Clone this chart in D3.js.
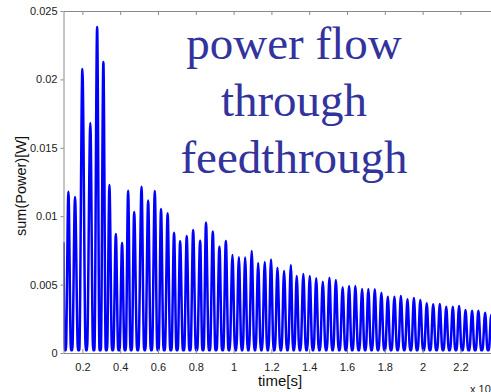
<!DOCTYPE html>
<html><head><meta charset="utf-8">
<script src="https://cdn.jsdelivr.net/npm/d3@7"></script>
<style>html,body{margin:0;padding:0;background:#fff;overflow:hidden}</style>
</head><body><svg id="c" width="491" height="392"></svg>
<script>
const titleLines = ["power flow", "through", "feedthrough"];
const xTicks = [0.2, 0.4, 0.6, 0.8, 1.0, 1.2, 1.4, 1.6, 1.8, 2.0, 2.2];
const xTickLabels = ["0.2","0.4","0.6","0.8","1","1.2","1.4","1.6","1.8","2","2.2"];
const yTicks = [0, 0.005, 0.01, 0.015, 0.02, 0.025];
const yTickLabels = ["0","0.005","0.01","0.015","0.02","0.025"];
const edgeTimes = [0.100];
const edgeValues = [0.0081];
const peakTimes = [0.126,0.161,0.200,0.242,0.278,0.311,0.343,0.377,0.410,0.442,0.474,0.513,0.548,0.583,0.616,0.651,0.685,0.717,0.752,0.786,0.823,0.854,0.890,0.925,0.959,0.994,1.028,1.061,1.096,1.130,1.165,1.198,1.232,1.267,1.303,1.334,1.369,1.403,1.437,1.472,1.507,1.541,1.577,1.611,1.644,1.680,1.713,1.747,1.782,1.816,1.851,1.885,1.920,1.954,1.988,2.022,2.056,2.091,2.125,2.160,2.193,2.227,2.262,2.295,2.331,2.363];
const peakValues = [0.01179,0.01140,0.02076,0.01681,0.02383,0.02127,0.01228,0.00870,0.00804,0.01186,0.01031,0.01216,0.01115,0.01184,0.01053,0.01021,0.00879,0.00817,0.00855,0.00899,0.00821,0.00954,0.00888,0.00777,0.00819,0.00716,0.00700,0.00698,0.00746,0.00658,0.00665,0.00683,0.00624,0.00599,0.00643,0.00563,0.00577,0.00563,0.00546,0.00521,0.00550,0.00534,0.00480,0.00490,0.00490,0.00468,0.00468,0.00466,0.00441,0.00412,0.00412,0.00417,0.00393,0.00402,0.00387,0.00363,0.00356,0.00358,0.00338,0.00338,0.00344,0.00314,0.00309,0.00309,0.00295,0.00278];
const troughTimes = [0.109,0.143,0.180,0.221,0.260,0.294,0.327,0.360,0.393,0.426,0.458,0.493,0.530,0.565,0.600,0.633,0.668,0.701,0.735,0.769,0.804,0.838,0.872,0.907,0.942,0.976,1.011,1.045,1.078,1.113,1.147,1.181,1.215,1.250,1.285,1.318,1.351,1.386,1.420,1.454,1.490,1.524,1.559,1.594,1.628,1.662,1.696,1.730,1.764,1.799,1.833,1.868,1.903,1.937,1.971,2.005,2.039,2.074,2.108,2.142,2.176,2.210,2.244,2.278,2.313,2.347,2.380];
const troughValues = [0.0002,0.0002,0.0002,0.0002,0.0002,0.0002,0.0002,0.0002,0.0002,0.0002,0.0002,0.0002,0.0002,0.0002,0.0002,0.0002,0.0002,0.0002,0.0002,0.0002,0.0002,0.0002,0.0002,0.0002,0.0002,0.0002,0.0002,0.0002,0.0002,0.0002,0.0002,0.0002,0.0002,0.0002,0.0002,0.0002,0.0002,0.0002,0.0002,0.0002,0.0002,0.0002,0.0002,0.0002,0.0002,0.0002,0.0002,0.0002,0.0002,0.0002,0.0002,0.0002,0.0002,0.0002,0.0002,0.0002,0.0002,0.0002,0.0002,0.0002,0.0002,0.0002,0.0002,0.0002,0.0002,0.0002,0.0002];

const svg = d3.select("#c");
const L = 63.5, T = 11, B = 353;
const x = d3.scaleLinear().domain([0.1, 2.4]).range([L, L + 2.3 * 189]);
const y = d3.scaleLinear().domain([0, 0.025]).range([B, T]);

// drawing style: each trough is drawn as a short flat floor of this half-width (time units)
const troughHalfWidth = 0.0035;

const pts = [];
edgeTimes.forEach((t, i) => pts.push([t, edgeValues[i]]));
peakTimes.forEach((t, i) => pts.push([t, peakValues[i]]));
troughTimes.forEach((t, i) => {
  pts.push([t - troughHalfWidth, troughValues[i]]);
  pts.push([t, troughValues[i]]);
  pts.push([t + troughHalfWidth, troughValues[i]]);
});
pts.sort((a, b) => a[0] - b[0]);

svg.append("clipPath").attr("id", "clip").append("rect")
  .attr("x", L).attr("y", 0).attr("width", 491 - L).attr("height", B + 2);

svg.append("path").datum(pts)
  .attr("clip-path", "url(#clip)")
  .attr("fill", "none").attr("stroke", "#0000ff").attr("stroke-width", 2.5)
  .attr("stroke-linejoin", "round")
  .attr("d", d3.line().x(d => x(d[0])).y(d => y(d[1])).curve(d3.curveMonotoneX));

const axisColor = "#8a8a8a";
const font = "'Liberation Sans', Arial, sans-serif";

const xb = svg.append("g").attr("transform", `translate(0,${B})`)
  .call(d3.axisBottom(x).tickValues(xTicks).tickFormat((d, i) => xTickLabels[i]).tickSizeInner(-4).tickSizeOuter(0).tickPadding(10));
const xt = svg.append("g").attr("transform", `translate(0,${T})`)
  .call(d3.axisTop(x).tickValues(xTicks).tickFormat("").tickSizeInner(-4).tickSizeOuter(0));
const yl = svg.append("g").attr("transform", `translate(${L},0)`)
  .call(d3.axisLeft(y).tickValues(yTicks).tickFormat((d, i) => yTickLabels[i]).tickSizeInner(3).tickSizeOuter(0).tickPadding(3));

[xb, xt, yl].forEach(g => {
  g.select(".domain").attr("stroke", axisColor);
  g.selectAll(".tick line").attr("stroke", axisColor);
  g.selectAll("text").attr("fill", "#222").style("font-family", font).style("font-size", "11px");
});

svg.append("text").attr("x", 280).attr("y", 386).attr("text-anchor", "middle")
  .style("font-family", font).style("font-size", "15px").attr("fill", "#111").text("time[s]");
svg.append("text").attr("transform", "translate(26,186) rotate(-90)").attr("text-anchor", "middle")
  .style("font-family", font).style("font-size", "14.5px").attr("fill", "#111").text("sum(Power)[W]");
svg.append("text").attr("x", 470).attr("y", 393)
  .style("font-family", font).style("font-size", "11px").attr("fill", "#222").text("x 10");

svg.selectAll("text.title").data(titleLines).join("text")
  .attr("class", "title")
  .attr("x", 294).attr("y", (d, i) => 59 + i * 57)
  .attr("text-anchor", "middle")
  .style("font-family", "'Liberation Serif', 'Times New Roman', serif")
  .style("font-size", "47px").attr("fill", "#32339d").text(d => d);
</script></body></html>
